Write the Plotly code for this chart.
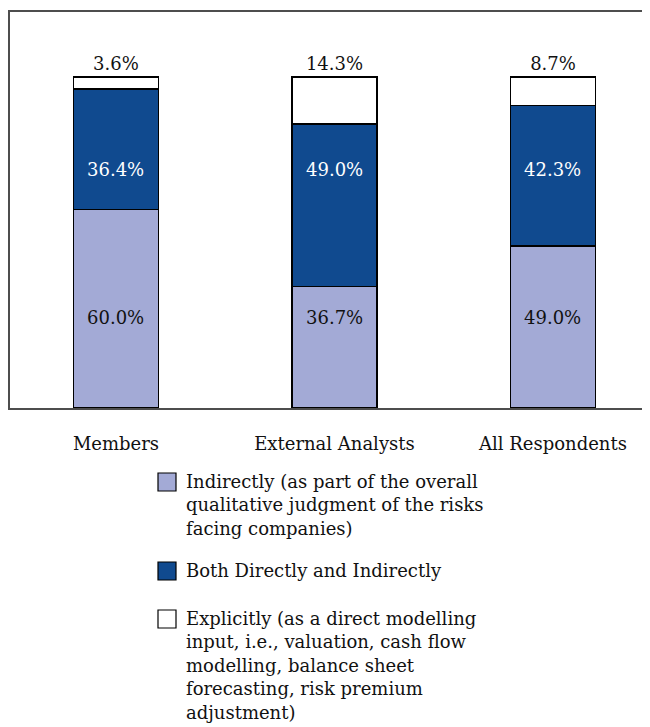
import plotly.graph_objects as go

# ---- data ----
categories = ["Members", "External Analysts", "All Respondents"]
indirectly = [60.0, 36.7, 49.0]
both = [36.4, 49.0, 42.3]
explicitly = [3.6, 14.3, 8.7]
series_names = [
    "Indirectly (as part of the overall<br>qualitative judgment of the risks<br>facing companies)",
    "Both Directly and Indirectly",
    "Explicitly (as a direct modelling<br>input, i.e., valuation, cash flow<br>modelling, balance sheet<br>forecasting, risk premium<br>adjustment)",
]

# ---- styles / layout constants ----
FONT = "DejaVu Serif"
FS = 18
C_LIGHT = "rgb(163,170,214)"
C_DARK = "rgb(16,74,143)"
C_WHITE = "white"
OFF = 8  # page body margin
W, H = 650 - OFF, 727 - OFF
# plot area in page pixels: x 10..650, y 12..408
ML, MR, MT = 10 - OFF, 0, 12 - OFF
MB = H - (408 - OFF)
PW, PH = W - ML - MR, H - MT - MB
LOW_LABEL_Y = 27.2   # fixed label heights used in the original
HIGH_LABEL_Y = 72.0


def px_x(x):
    return (x - OFF - ML) / PW


def px_y(y):
    return (H - MB - (y - OFF)) / PH


fig = go.Figure()
bar_style = dict(width=0.39, marker_line_color="black", marker_line_width=1.5,
                 showlegend=False, hoverinfo="skip")
fig.add_trace(go.Bar(x=categories, y=indirectly, marker_color=C_LIGHT, name=series_names[0], **bar_style))
fig.add_trace(go.Bar(x=categories, y=both, marker_color=C_DARK, name=series_names[1], **bar_style))
fig.add_trace(go.Bar(x=categories, y=explicitly, marker_color=C_WHITE, name=series_names[2],
                     text=[f"{v:.1f}%" for v in explicitly], textposition="outside",
                     textfont=dict(family=FONT, size=FS, color="#111"), cliponaxis=False,
                     **bar_style))

annotations = []
for c, v in zip(categories, indirectly):
    annotations.append(dict(x=c, y=LOW_LABEL_Y, xref="x", yref="y", text=f"{v:.1f}%",
                            showarrow=False, font=dict(family=FONT, size=FS, color="#111")))
for c, v in zip(categories, both):
    annotations.append(dict(x=c, y=HIGH_LABEL_Y, xref="x", yref="y", text=f"{v:.1f}%",
                            showarrow=False, font=dict(family=FONT, size=FS, color="white")))

# manual legend
legend_rows = [482, 571, 619]
legend_colors = [C_LIGHT, C_DARK, C_WHITE]
shapes = []
for name, row, col in zip(series_names, legend_rows, legend_colors):
    shapes.append(dict(type="rect", xref="paper", yref="paper",
                       x0=px_x(158), x1=px_x(176), y0=px_y(row - 9), y1=px_y(row + 9),
                       fillcolor=col, line=dict(color="black", width=1.2)))
    annotations.append(dict(x=px_x(184), y=px_y(row - 13), xref="paper", yref="paper",
                            xanchor="left", yanchor="top", align="left", text=name,
                            showarrow=False, font=dict(family=FONT, size=FS, color="#111")))

fig.update_layout(
    width=W, height=H, barmode="stack",
    margin=dict(l=ML, r=MR, t=MT, b=MB, pad=0),
    paper_bgcolor="white", plot_bgcolor="white",
    font=dict(family=FONT, size=FS, color="#111"),
    xaxis=dict(range=[-0.485, 2.444], showline=True, mirror=True, linecolor="#4d4d4d",
               linewidth=2, ticks="", showgrid=False, ticklabelstandoff=18,
               tickfont=dict(family=FONT, size=FS, color="#111")),
    yaxis=dict(range=[0, 119.6], showline=True, mirror=False, linecolor="#4d4d4d",
               linewidth=2, showticklabels=False, ticks="", showgrid=False, zeroline=False),
    showlegend=False,
    annotations=annotations,
    shapes=shapes,
)

fig.write_html("out.html")
